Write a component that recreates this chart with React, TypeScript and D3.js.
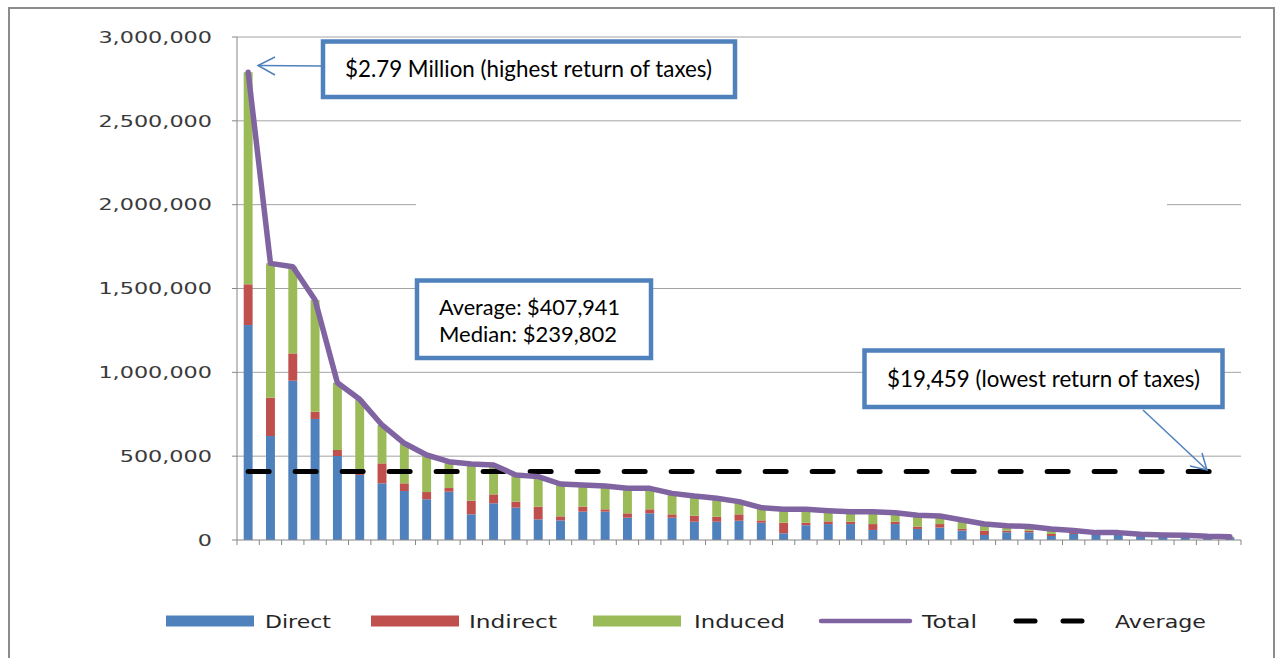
import React from "react";
import * as d3 from "d3";

// ---- Data (values in dollars) ----
const categories: string[] = Array.from({ length: 45 }, (_, i) => `P${i + 1}`);

const directValues: number[] = [
  1282000, 620000, 950000, 722000, 501000, 388000, 338000, 292000, 243000, 288000,
  153000, 219000, 193000, 123000, 117000, 169000, 169000, 133000, 159000, 133000,
  109000, 109000, 115000, 103000, 40000, 88000, 95000, 95000, 60000, 95000,
  66000, 74000, 56000, 30000, 46000, 46000, 24000, 36000, 30000, 30000,
  34000, 26000, 14000, 18000, 15000,
];
const indirectValues: number[] = [
  243000, 229000, 163000, 43000, 36000, 12000, 119000, 46000, 43000, 22000,
  82000, 53000, 36000, 76000, 24000, 30000, 14000, 26000, 24000, 20000,
  36000, 30000, 38000, 14000, 63000, 15000, 16000, 14000, 35000, 14000,
  14000, 21000, 10000, 26000, 10000, 10000, 12000, 8000, 6000, 4000,
  0, 2000, 12000, 2000, 2000,
];
const inducedValues: number[] = [
  1265000, 801000, 517000, 666000, 401000, 439000, 229000, 239000, 221000, 157000,
  218000, 175000, 159000, 179000, 193000, 129000, 139000, 149000, 125000, 125000,
  117000, 110000, 76000, 76000, 80000, 80000, 64000, 60000, 74000, 54000,
  67000, 48000, 53000, 39000, 29000, 24000, 30000, 12000, 8000, 10000,
  0, 2000, 2000, 2000, 2459,
];
const averageValue = 407941;
const yTickValues: number[] = [0, 500000, 1000000, 1500000, 2000000, 2500000, 3000000];

const seriesKeys = ["direct", "indirect", "induced"] as const;
const seriesColors: Record<string, string> = {
  direct: "#4F81BD",
  indirect: "#C0504D",
  induced: "#9BBB59",
};
const totalColor = "#8064A2";
const boxBlue = "#4F81BD";

const W = 1276;
const H = 658;
const plotLeft = 237;
const plotRight = 1241;
const plotBottom = 540;
const plotTop = 37;

export default function App() {
  const rows = categories.map((c, i) => ({
    cat: c,
    direct: directValues[i],
    indirect: indirectValues[i],
    induced: inducedValues[i],
  }));
  const totals = rows.map((r) => r.direct + r.indirect + r.induced);

  const y = d3.scaleLinear().domain([0, 3000000]).range([plotBottom, plotTop]);
  const x = d3
    .scaleBand<string>()
    .domain(categories)
    .range([plotLeft, plotRight])
    .paddingInner(0.6)
    .paddingOuter(0.3);
  const step = x.step();
  const cx = (c: string) => (x(c) as number) + x.bandwidth() / 2;

  const stacked = d3.stack<any>().keys(seriesKeys as unknown as string[])(rows);

  const totalLine = d3
    .line<number>()
    .x((_, i) => cx(categories[i]))
    .y((d) => y(d))(totals) as string;

  const avgLine = d3
    .line<number>()
    .x((_, i) => cx(categories[i]))
    .y((d) => y(d))(categories.map(() => averageValue)) as string;

  const fmt = d3.format(",");
  const labelWidth = (s: string) => {
    let w = 0;
    for (const ch of s) w += ch === "," ? 7.1 : 14.2;
    return w;
  };

  const legendItems = [
    { key: "direct", label: "Direct", type: "rect", sx: 166, tx: 265, tw: 66 },
    { key: "indirect", label: "Indirect", type: "rect", sx: 371, tx: 469, tw: 88 },
    { key: "induced", label: "Induced", type: "rect", sx: 593, tx: 694, tw: 91 },
    { key: "total", label: "Total", type: "line", sx: 821, tx: 922, tw: 55 },
    { key: "average", label: "Average", type: "dash", sx: 1013, tx: 1115, tw: 91 },
  ];
  const legendY = 621;

  return (
    <svg
      width={W}
      height={H}
      style={{ position: "absolute", left: 0, top: 0, background: "#fff" }}
    >
      <rect x={0} y={0} width={W} height={H} fill="#fff" />
      {/* chart frame */}
      <rect x={9} y={8} width={1265} height={700} fill="none" stroke="#8c8c8c" strokeWidth={2} />

      {/* gridlines */}
      {yTickValues
        .filter((v) => v > 0)
        .map((v) => (
          <line
            key={`g${v}`}
            x1={plotLeft}
            x2={plotRight}
            y1={y(v)}
            y2={y(v)}
            stroke="#a3a3a3"
            strokeWidth={1}
          />
        ))}
      {/* invisible text box hiding part of the 2,000,000 gridline */}
      <rect x={416} y={y(2000000) - 3} width={751} height={6} fill="#fff" />

      {/* y axis */}
      <line x1={plotLeft} x2={plotLeft} y1={plotTop} y2={plotBottom} stroke="#868686" strokeWidth={1} />
      {yTickValues.map((v) => (
        <g key={`t${v}`}>
          <line x1={plotLeft - 5} x2={plotLeft} y1={y(v)} y2={y(v)} stroke="#868686" strokeWidth={1} />
          <text
            x={212}
            y={y(v)}
            dy="0.36em"
            textAnchor="end"
            fontFamily="DejaVu Sans, Verdana, sans-serif"
            fontSize={16}
            fill="#3a3a3a"
            textLength={labelWidth(fmt(v))}
            lengthAdjust="spacingAndGlyphs"
          >
            {fmt(v)}
          </text>
        </g>
      ))}

      {/* bars */}
      {stacked.map((s) => (
        <g key={s.key} fill={seriesColors[s.key]}>
          {s.map((d, i) => (
            <rect
              key={i}
              x={x(categories[i])}
              y={y(d[1])}
              width={x.bandwidth()}
              height={Math.max(0, y(d[0]) - y(d[1]))}
            />
          ))}
        </g>
      ))}

      {/* x axis */}
      <line x1={plotLeft} x2={plotRight} y1={plotBottom} y2={plotBottom} stroke="#868686" strokeWidth={1} />
      {d3.range(categories.length + 1).map((i) => (
        <line
          key={`xt${i}`}
          x1={plotLeft + i * step}
          x2={plotLeft + i * step}
          y1={plotBottom}
          y2={plotBottom + 5}
          stroke="#868686"
          strokeWidth={1}
        />
      ))}

      {/* average dashed line */}
      <path
        d={avgLine}
        fill="none"
        stroke="#000"
        strokeWidth={5}
        strokeDasharray="21 26"
        strokeLinecap="round"
      />

      {/* total line */}
      <path
        d={totalLine}
        fill="none"
        stroke={totalColor}
        strokeWidth={5.5}
        strokeLinejoin="round"
        strokeLinecap="round"
      />

      {/* annotation 1 */}
      <g stroke={boxBlue} strokeWidth={1.5} fill="none">
        <line x1={321} y1={66} x2={258} y2={65.5} />
        <polyline points="275,57 258,65.5 275,75" />
      </g>
      <rect x={323} y={41.5} width={412} height={55.5} fill="#fff" stroke={boxBlue} strokeWidth={4.5} />
      <text
        x={345}
        y={77}
        fontFamily="Lato, Open Sans, sans-serif"
        fontSize={23}
        fill="#000"
        textLength={367}
        lengthAdjust="spacingAndGlyphs"
      >
        $2.79 Million (highest return of taxes)
      </text>

      {/* annotation 2 */}
      <rect x={417} y={280.5} width={234} height={77.5} fill="#fff" stroke={boxBlue} strokeWidth={4.5} />
      <text
        x={439}
        y={315}
        fontFamily="Lato, Open Sans, sans-serif"
        fontSize={22}
        fill="#000"
        textLength={181}
        lengthAdjust="spacingAndGlyphs"
      >
        Average: $407,941
      </text>
      <text
        x={439}
        y={342}
        fontFamily="Lato, Open Sans, sans-serif"
        fontSize={22}
        fill="#000"
        textLength={178}
        lengthAdjust="spacingAndGlyphs"
      >
        Median: $239,802
      </text>

      {/* annotation 3 */}
      <g stroke={boxBlue} strokeWidth={1.5} fill="none">
        <line x1={1143} y1={410} x2={1207} y2={470} />
        <polyline points="1190,466 1207,470 1202,453" />
      </g>
      <rect x={864.5} y={350.5} width={358} height={56.5} fill="#fff" stroke={boxBlue} strokeWidth={4.5} />
      <text
        x={887}
        y={387}
        fontFamily="Lato, Open Sans, sans-serif"
        fontSize={23}
        fill="#000"
        textLength={313}
        lengthAdjust="spacingAndGlyphs"
      >
        $19,459 (lowest return of taxes)
      </text>

      {/* legend */}
      {legendItems.map((it) => (
        <g key={it.key}>
          {it.type === "rect" && (
            <rect x={it.sx} y={legendY - 5.5} width={88} height={11} fill={seriesColors[it.key]} />
          )}
          {it.type === "line" && (
            <line
              x1={it.sx}
              x2={it.sx + 89}
              y1={legendY}
              y2={legendY}
              stroke={totalColor}
              strokeWidth={4.5}
              strokeLinecap="round"
            />
          )}
          {it.type === "dash" && (
            <g stroke="#000" strokeWidth={5} strokeLinecap="round">
              <line x1={it.sx + 3} x2={it.sx + 22} y1={legendY} y2={legendY} />
              <line x1={it.sx + 50} x2={it.sx + 69} y1={legendY} y2={legendY} />
            </g>
          )}
          <text
            x={it.tx}
            y={legendY + 7}
            fontFamily="DejaVu Sans, Verdana, sans-serif"
            fontSize={18}
            fill="#262626"
            textLength={it.tw}
            lengthAdjust="spacingAndGlyphs"
          >
            {it.label}
          </text>
        </g>
      ))}
    </svg>
  );
}
